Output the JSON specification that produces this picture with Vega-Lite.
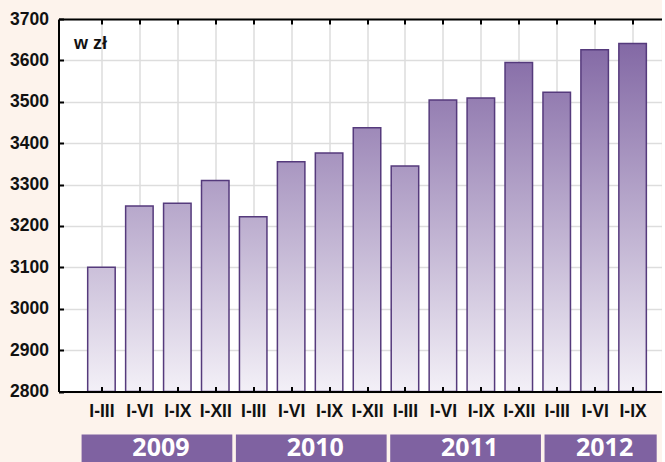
{
  "$schema": "https://vega.github.io/schema/vega-lite/v6.json",
  "background": "#fdf3ec",
  "padding": {"left": 9.5, "top": 10, "right": 0, "bottom": 0},
  "data": {
    "values": [
      {"q": 1, "year": "2009", "period": "I-III", "value": 3100},
      {"q": 2, "year": "2009", "period": "I-VI", "value": 3248},
      {"q": 3, "year": "2009", "period": "I-IX", "value": 3255},
      {"q": 4, "year": "2009", "period": "I-XII", "value": 3310},
      {"q": 5, "year": "2010", "period": "I-III", "value": 3222},
      {"q": 6, "year": "2010", "period": "I-VI", "value": 3355},
      {"q": 7, "year": "2010", "period": "I-IX", "value": 3376},
      {"q": 8, "year": "2010", "period": "I-XII", "value": 3437},
      {"q": 9, "year": "2011", "period": "I-III", "value": 3345},
      {"q": 10, "year": "2011", "period": "I-VI", "value": 3504},
      {"q": 11, "year": "2011", "period": "I-IX", "value": 3509},
      {"q": 12, "year": "2011", "period": "I-XII", "value": 3595},
      {"q": 13, "year": "2012", "period": "I-III", "value": 3523},
      {"q": 14, "year": "2012", "period": "I-VI", "value": 3626},
      {"q": 15, "year": "2012", "period": "I-IX", "value": 3641}
    ]
  },
  "spacing": 42.5,
  "bounds": "flush",
  "vconcat": [
    {
      "width": 603,
      "height": 372.5,
      "view": {"fill": "white", "stroke": null},
      "layer": [
        {
          "mark": {"type": "point", "opacity": 0},
          "encoding": {
            "x": {
              "field": "q",
              "type": "quantitative",
              "scale": {"domain": [0, 15.63], "nice": false, "zero": false},
              "axis": {
                "orient": "top",
                "values": [1, 2, 3, 4, 5, 6, 7, 8, 9, 10, 11, 12, 13, 14, 15],
                "title": null,
                "labels": false,
                "grid": true,
                "gridColor": "#dddddd",
                "gridWidth": 1.5,
                "domain": true,
                "domainColor": "#000000",
                "domainWidth": 2,
                "ticks": true,
                "tickSize": -5,
                "tickWidth": 2,
                "tickColor": "#000000"
              }
            },
            "y": {
              "field": "value",
              "type": "quantitative",
              "scale": {"domain": [2800, 3700], "nice": false, "zero": false},
              "axis": {
                "values": [2800, 2900, 3000, 3100, 3200, 3300, 3400, 3500, 3600, 3700],
                "format": "d",
                "domain": true,
                "domainColor": "#000000",
                "domainWidth": 2,
                "ticks": true,
                "tickSize": -5,
                "tickWidth": 2,
                "tickColor": "#000000",
                "labelFont": "Liberation Sans",
                "labelFontSize": 17.5,
                "labelFontWeight": "bold",
                "labelColor": "#111111",
                "labelPadding": 15,
                "labelOverlap": false,
                "labelFlush": false,
                "grid": true,
                "gridColor": "#dddddd",
                "gridWidth": 1.5,
                "title": "w zł",
                "titleAngle": 0,
                "titleX": 15,
                "titleY": 29,
                "titleAlign": "left",
                "titleBaseline": "alphabetic",
                "titleFont": "Liberation Sans",
                "titleFontSize": 18,
                "titleFontWeight": "bold",
                "titleColor": "#111111"
              }
            }
          }
        },
        {
          "mark": {
            "type": "bar",
            "width": 27.5,
            "stroke": "#553a7c",
            "strokeWidth": 1.5,
            "fill": {"expr": "{gradient: 'linear', x1: 0.5, y1: 1, x2: 0.5, y2: 1 - 900 / (datum.value - 2800), stops: [{offset: 0, color: '#f3f0f7'}, {offset: 1, color: '#7b5f9f'}]}"}
          },
          "encoding": {
            "x": {
              "field": "q",
              "type": "quantitative",
              "axis": {
                "orient": "bottom",
                "values": [1, 2, 3, 4, 5, 6, 7, 8, 9, 10, 11, 12, 13, 14, 15],
                "labelExpr": "['I-III','I-VI','I-IX','I-XII'][(datum.value - 1) % 4]",
                "title": null,
                "domain": true,
                "domainColor": "#000000",
                "domainWidth": 2,
                "ticks": true,
                "tickSize": -5,
                "tickWidth": 2,
                "tickColor": "#000000",
                "labelFont": "Liberation Sans",
                "labelFontSize": 17.5,
                "labelFontWeight": "bold",
                "labelColor": "#111111",
                "labelPadding": 16,
                "labelFlush": false,
                "labelOverlap": false,
                "grid": false,
                "zindex": 1
              }
            },
            "y": {"field": "value", "type": "quantitative"},
            "y2": {"datum": 2800}
          }
        }
      ],
      "resolve": {"axis": {"x": "independent"}}
    },
    {
      "width": 603,
      "height": 30,
      "view": {"stroke": null},
      "transform": [
        {
          "aggregate": [
            {"op": "min", "field": "q", "as": "first"},
            {"op": "max", "field": "q", "as": "last"},
            {"op": "mean", "field": "q", "as": "mid"}
          ],
          "groupby": ["year"]
        }
      ],
      "layer": [
        {
          "mark": {"type": "rect", "color": "#7f62a1", "xOffset": -15.5, "x2Offset": 19.5},
          "encoding": {
            "x": {
              "field": "first",
              "type": "quantitative",
              "scale": {"domain": [0, 15.63], "nice": false, "zero": false},
              "axis": null
            },
            "x2": {"field": "last"}
          }
        },
        {
          "mark": {
            "type": "text",
            "color": "#ffffff",
            "font": "Open Sans",
            "fontSize": 25,
            "fontWeight": "bold",
            "dx": 6,
            "dy": -2,
            "baseline": "middle"
          },
          "encoding": {
            "x": {"field": "mid", "type": "quantitative", "axis": null},
            "text": {"field": "year", "type": "nominal"}
          }
        }
      ]
    }
  ]
}
